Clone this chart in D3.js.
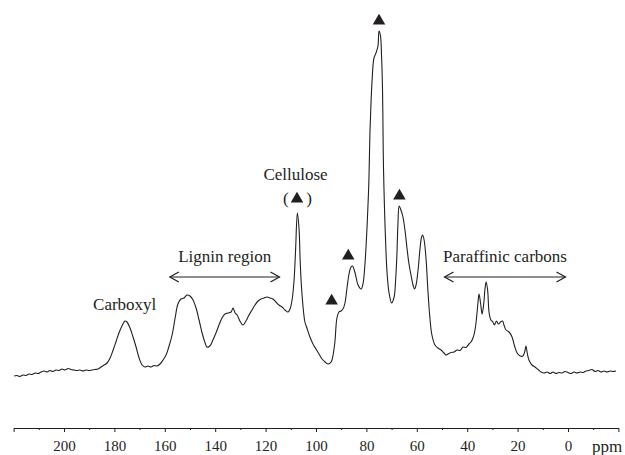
<!DOCTYPE html>
<html>
<head>
<meta charset="utf-8">
<script src="https://cdn.jsdelivr.net/npm/d3@7"></script>
<style>
  html, body { margin: 0; padding: 0; background: #fff; }
  svg { display: block; }
  text { font-family: "Liberation Serif", "Times New Roman", serif; fill: #231f20; }
</style>
</head>
<body>
<svg id="svg" width="625" height="455"></svg>
<script>
// 13C CP/MAS spectrum, chemical shift (ppm) and intensity (arbitrary units)
const ppm = [
  219.8, 218.7, 217.5, 216.3, 215.1, 213.9, 212.7, 211.5, 210.3, 209.1,
  207.9, 206.7, 205.6, 204.4, 203.2, 202.0, 200.8, 199.6, 198.4, 197.2,
  196.0, 194.8, 193.7, 192.5, 191.3, 190.1, 188.9, 187.7, 186.5, 185.3,
  184.1, 182.9, 181.7, 180.5, 179.4, 178.2, 177.0, 175.8, 175.0, 173.8,
  172.6, 171.4, 170.2, 169.0, 167.9, 166.7, 165.5, 164.3, 163.1, 161.9,
  160.7, 159.5, 158.3, 157.1, 155.9, 154.8, 153.6, 152.4, 151.2, 150.0,
  148.8, 147.6, 146.4, 145.2, 144.0, 143.3, 142.1, 140.9, 139.7, 138.5,
  137.3, 136.1, 134.9, 133.7, 132.9, 132.1, 131.3, 130.2, 129.0, 127.8,
  126.6, 125.4, 124.2, 123.0, 121.8, 120.6, 119.4, 118.3, 117.1, 115.9,
  114.7, 113.5, 112.3, 111.1, 110.3, 109.5, 108.7, 108.1, 107.4, 106.7,
  106.3, 105.8, 105.2, 104.4, 103.6, 102.4, 101.2, 100.0, 98.8, 97.6,
  96.4, 95.2, 94.0, 93.3, 92.5, 91.7, 90.9, 90.1, 89.3, 88.5,
  87.7, 86.9, 86.1, 85.5, 84.5, 83.3, 82.1, 81.3, 80.6, 80.0,
  79.4, 79.0, 78.6, 78.2, 77.8, 77.0, 76.2, 75.4, 75.0, 74.4,
  74.0, 73.6, 73.4, 73.2, 72.8, 72.4, 71.8, 71.0, 70.0, 69.0,
  68.4, 67.9, 67.5, 67.0, 66.3, 65.5, 64.7, 63.9, 63.1, 62.3,
  61.5, 60.9, 60.3, 59.5, 58.7, 58.1, 57.7, 57.1, 56.3, 55.6,
  54.8, 54.0, 52.8, 51.6, 50.4, 49.2, 48.4, 47.6, 46.4, 45.2,
  44.0, 42.8, 41.7, 40.5, 39.3, 38.5, 37.7, 36.9, 36.3, 35.7,
  35.3, 34.7, 34.1, 33.5, 32.9, 32.5, 31.9, 31.3, 30.6, 29.8,
  29.2, 28.4, 27.6, 26.8, 26.0, 25.4, 24.6, 23.4, 22.2, 21.2,
  20.2, 19.0, 17.9, 17.1, 16.7, 16.1, 15.5, 14.3, 13.1, 11.9,
  10.7, 9.5, 8.3, 7.1, 5.9, 4.8, 3.6, 2.4, 1.2, 0.0,
  -1.2, -2.4, -3.6, -4.8, -6.0, -7.1, -8.3, -9.5, -10.7, -11.9,
  -13.1, -14.3, -15.5, -16.7, -17.9, -19.0
];
const intensity = [
  4, 4.5, 3.5, 5, 4.5, 6, 5.5, 7, 6.5, 8,
  9, 8, 9.5, 8.5, 10, 9.5, 11, 10, 11.5, 10.5,
  10, 9.5, 10, 9, 10, 9.5, 10, 10.5, 11, 13,
  15, 17, 22, 30, 38, 47, 54, 59, 58, 52,
  43, 33, 22, 15, 13, 14, 13, 14.5, 14, 16,
  20, 25, 34, 45, 62, 76, 81, 82, 85, 84,
  80, 72, 60, 47, 37, 33, 34, 40, 47, 55,
  62, 66, 67, 68, 72, 67, 65, 59, 55, 59,
  65, 70, 75, 79, 81, 82, 83, 82, 81, 78,
  75, 73, 70, 68, 71, 80, 100, 130, 167, 150,
  120, 95, 75, 58, 52, 43, 36, 31, 26, 21,
  18, 16, 18, 24, 38, 62, 68, 69, 71, 77,
  92, 106, 113, 114, 107, 95, 91, 97, 115, 140,
  173, 200, 247, 275, 297, 322, 327, 334, 349, 344,
  325, 290, 247, 210, 170, 140, 107, 87, 77, 83,
  100, 125, 155, 174, 170, 163, 150, 132, 116, 105,
  95, 91, 95, 110, 132, 143, 145, 140, 120, 90,
  62, 45, 35, 32, 30, 27, 25, 26, 27.5, 28,
  30, 29.5, 33, 32.5, 36, 38, 42, 50, 62, 78,
  86, 77, 66, 75, 92, 98, 90, 67, 60, 58,
  55, 59, 56, 58, 59, 55, 50, 48, 43, 34,
  27, 24, 24, 29, 34, 26, 20, 15, 13, 10.5,
  8, 7, 8, 6.5, 8, 6.5, 7.5, 7, 8.5, 7.5,
  6.5, 8, 7, 8, 7.5, 9, 9.5, 10.5, 8.5, 9.5,
  8, 9, 8, 9, 8.5, 9
];

// axis ticks (ppm)
const majorTicks = [220, 200, 180, 160, 140, 120, 100, 80, 60, 40, 20, 0, -20];
const minorTicks = [210, 190, 170, 150, 130, 110, 90, 70, 50, 30, 10, -10];
const tickLabels = ["", "200", "180", "160", "140", "120", "100", "80", "60", "40", "20", "0", ""];

// cellulose peaks marked with a triangle
const cellulosePpm = [93.8, 87.2, 75.0, 66.9];
const celluloseIntensity = [69, 114, 349, 174];

// region labels
const regionNames = ["Lignin region", "Paraffinic carbons"];
const regionFrom = [158, 49];
const regionTo = [114.5, 1];

const svg = d3.select("#svg");

const x = d3.scaleLinear().domain([220, -20]).range([13.6, 618.4]);
const y = d3.scaleLinear().domain([0, 350]).range([380, 30]);

const ink = "#231f20";

// spectrum
const points = ppm.map((p, i) => [p, intensity[i]]);
const line = d3.line()
  .x(d => x(d[0]))
  .y(d => y(d[1]))
  .curve(d3.curveCatmullRom.alpha(0.5));

svg.append("path")
  .datum(points)
  .attr("d", line)
  .attr("fill", "none")
  .attr("stroke", ink)
  .attr("stroke-width", 1.1)
  .attr("stroke-linejoin", "round");

// x axis
const axisY = 428;
const axis = svg.append("g")
  .attr("transform", `translate(0,${axisY})`)
  .call(d3.axisBottom(x)
    .tickValues(majorTicks)
    .tickSize(4)
    .tickSizeOuter(0)
    .tickPadding(8)
    .tickFormat((d, i) => tickLabels[i]));
axis.select(".domain").attr("stroke", ink);
axis.selectAll(".tick line").attr("stroke", ink);
axis.selectAll(".tick text")
  .attr("font-family", "Liberation Serif, serif")
  .attr("font-size", 15)
  .attr("fill", ink);

const minor = svg.append("g")
  .attr("transform", `translate(0,${axisY})`)
  .call(d3.axisBottom(x).tickValues(minorTicks).tickSize(2).tickFormat(""));
minor.select(".domain").remove();
minor.selectAll(".tick line").attr("stroke", ink);

svg.append("text")
  .attr("x", 607)
  .attr("y", 452)
  .attr("text-anchor", "middle")
  .attr("font-size", 17)
  .text("ppm");

// triangles over cellulose peaks
const tri = d3.symbol().type(d3.symbolTriangle).size(68);
svg.selectAll("path.marker")
  .data(cellulosePpm)
  .enter()
  .append("path")
  .attr("class", "marker")
  .attr("d", tri)
  .attr("fill", ink)
  .attr("transform", (d, i) => `translate(${x(d)},${y(celluloseIntensity[i]) - 10})`);

// labels
svg.append("text")
  .attr("x", 124.7).attr("y", 310)
  .attr("text-anchor", "middle")
  .attr("font-size", 17)
  .text("Carboxyl");

svg.append("text")
  .attr("x", 295.5).attr("y", 180)
  .attr("text-anchor", "middle")
  .attr("font-size", 17)
  .text("Cellulose");

svg.append("text").attr("x", 283).attr("y", 204).attr("font-size", 17).text("(");
svg.append("text").attr("x", 312).attr("y", 204).attr("text-anchor", "end").attr("font-size", 17).text(")");
svg.append("path")
  .attr("d", tri)
  .attr("fill", ink)
  .attr("transform", "translate(297,199)");

// double-headed arrows
const arrowY = 277;
const regions = regionNames.map((n, i) => ({ name: n, from: regionFrom[i], to: regionTo[i] }));

const reg = svg.selectAll("g.region")
  .data(regions)
  .enter()
  .append("g")
  .attr("class", "region");

reg.append("line")
  .attr("x1", d => x(d.from))
  .attr("x2", d => x(d.to))
  .attr("y1", arrowY)
  .attr("y2", arrowY)
  .attr("stroke", ink)
  .attr("stroke-width", 1.2);

reg.append("path")
  .attr("d", d => {
    const a = x(d.from), b = x(d.to);
    return `M${a + 9},${arrowY - 5}L${a},${arrowY}L${a + 9},${arrowY + 5}` +
           `M${b - 9},${arrowY - 5}L${b},${arrowY}L${b - 9},${arrowY + 5}`;
  })
  .attr("fill", "none")
  .attr("stroke", ink)
  .attr("stroke-width", 1.2);

reg.append("text")
  .attr("x", d => (x(d.from) + x(d.to)) / 2)
  .attr("y", 262)
  .attr("text-anchor", "middle")
  .attr("font-size", 17)
  .text(d => d.name);
</script>
</body>
</html>
